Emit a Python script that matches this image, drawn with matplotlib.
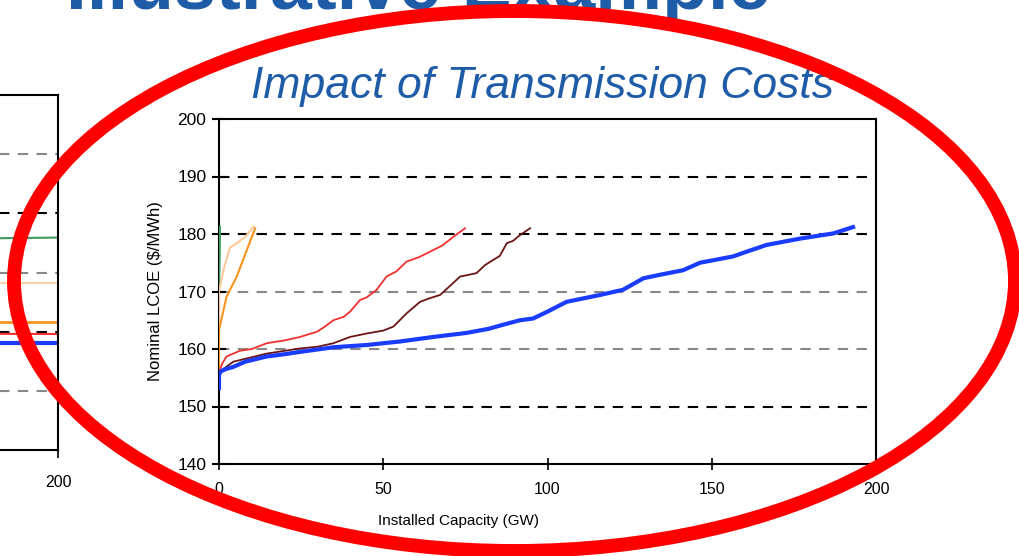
import matplotlib
matplotlib.use("Agg")
from matplotlib import pyplot as plt
from matplotlib.patches import Ellipse

plt.rcParams['font.family'] = ['Liberation Sans', 'DejaVu Sans']

# Curvas de oferta (capacidad instalada GW, LCOE $/MWh)
blue_x = [0, 0, 0.5, 2, 4.4, 8, 14.5, 20, 24.7, 34.8, 45, 55, 65.3, 75.4, 82, 87, 91.6, 95.6,
          100, 105.8, 116, 123, 129.2, 135, 141.3, 146.4, 156.5, 161, 166.7, 176.9, 187, 193]
blue_y = [153.2, 155.5, 156.1, 156.5, 156.9, 157.8, 158.7, 159.1, 159.5, 160.3, 160.7, 161.3, 162.1,
          162.8, 163.5, 164.3, 165.0, 165.3, 166.5, 168.2, 169.4, 170.3, 172.3, 173.0, 173.7, 175.0,
          176.1, 177.0, 178.1, 179.2, 180.1, 181.2]
red_x = [0, 1, 2.3, 6.4, 10, 14.5, 20, 24.7, 29.8, 32, 34.8, 38, 39.9, 42.9, 45, 48, 51, 54,
         57.1, 61, 65.2, 68, 71.3, 74.9]
red_y = [156, 157.5, 158.7, 159.7, 160.0, 161.0, 161.5, 162.1, 163.0, 163.8, 165.0, 165.6, 166.5,
         168.5, 169.0, 170.3, 172.6, 173.5, 175.2, 176.0, 177.2, 178.0, 179.5, 181.0]
brown_x = [0, 4.4, 14.5, 24.7, 30, 34.8, 39.9, 45, 50, 53.1, 57.1, 61.2, 64, 67.3, 70, 73.4, 76,
           78.4, 81, 83.5, 85.5, 87.6, 89.5, 91.6, 94.7]
brown_y = [156, 157.8, 159.2, 160.1, 160.4, 161.0, 162.1, 162.7, 163.2, 163.9, 166.2, 168.2, 168.8,
           169.4, 170.8, 172.6, 172.9, 173.2, 174.6, 175.5, 176.2, 178.4, 178.8, 179.8, 181.0]
orange_x = [0, 0, 2.3, 5.4, 11]
orange_y = [156.3, 163.3, 169.1, 172.6, 181.0]
peach_x = [0, 0, 1.5, 3.3, 5.4, 8, 10.5]
peach_y = [160, 170, 174, 177.6, 178.4, 179.5, 181.3]
green_x = [0, 0.2, 0.3]
green_y = [170.3, 176, 181.3]

# Grafico de la izquierda (solo se ve el borde derecho)
left_x = [0, 100, 150, 200]
left_green = [175.2, 175.5, 175.6, 175.9]
left_peach = [168.3, 168.3, 168.3, 168.3]
left_orange = [161.6, 161.6, 161.6, 161.6]
left_red = [159.4, 159.5, 159.7, 159.6]
left_blue = [158.1, 158.1, 158.1, 158.1]

grid_black = [150, 180, 190]
grid_gray = [160, 170]

W, H = 1019, 556
fig = plt.figure(figsize=(W / 100, H / 100), dpi=100)

# Titulo de la diapositiva (cortado arriba)
fig.text(770 / W, 1 - 9 / H, "Illustrative Example", ha='right', va='baseline',
         fontsize=54, weight='bold', color='#1f5ca8', zorder=1)

# --- grafico izquierdo ---
axl = fig.add_axes([-599 / W, 1 - 450 / H, 657 / W, 355 / H])
axl.set_xlim(0, 200)
axl.set_ylim(140, 200)
for g, c in [(190, '#888888'), (180, 'k'), (170, '#888888'), (160, 'k'), (150, '#888888')]:
    axl.axhline(g, color=c, lw=1.5, dashes=(5, 4), zorder=1)
axl.plot(left_x, left_green, color='#3c9a5c', lw=1.5)
axl.plot(left_x, left_peach, color='#fcd0a8', lw=1.5)
axl.plot(left_x, left_orange, color='#f7941d', lw=2)
axl.plot(left_x, left_red, color='#f03030', lw=1.5)
axl.plot(left_x, left_blue, color='#1a3cff', lw=3)
axl.set_xticks([200])
axl.set_yticks([])
axl.tick_params(axis='x', labelsize=11.5, length=6, width=1.2, pad=12)
for s in axl.spines.values():
    s.set_linewidth(1.5)

# --- grafico principal ---
ax = fig.add_axes([219 / W, 1 - 464 / H, 657 / W, 345 / H])
ax.set_xlim(0, 200)
ax.set_ylim(140, 200)
for g in grid_black:
    ax.axhline(g, color='k', lw=1.5, dashes=(5, 4), zorder=1)
for g in grid_gray:
    ax.axhline(g, color='#888888', lw=1.5, dashes=(5, 4), zorder=1)

ax.plot(green_x, green_y, color='#3c9a5c', lw=1.5, zorder=3)
ax.plot(peach_x, peach_y, color='#fcc99a', lw=1.5, zorder=3)
ax.plot(orange_x, orange_y, color='#f7941d', lw=1.5, zorder=3)
ax.plot(brown_x, brown_y, color='#6a1414', lw=1.3, zorder=3)
ax.plot(red_x, red_y, color='#f03030', lw=1.3, zorder=3)
ax.plot(blue_x, blue_y, color='#1a3cff', lw=3, zorder=4)

ax.set_xticks([0, 50, 100, 150, 200])
ax.set_yticks([140, 150, 160, 170, 180, 190, 200])
ax.tick_params(axis='y', direction='inout', length=10, width=1.5, labelsize=12.5, pad=4)
ax.tick_params(axis='x', direction='inout', length=8, width=1.2, labelsize=11.5, pad=9)
for s in ax.spines.values():
    s.set_linewidth(1.5)

ax.set_xlabel("Installed Capacity (GW)", fontsize=11)
ax.set_ylabel("Nominal LCOE ($/MWh)", fontsize=12)
ax.yaxis.set_label_coords(-0.085, 0.5)
ax.xaxis.set_label_coords(0.365, -0.145)

ax.set_title("Impact of Transmission Costs", fontsize=32, style='italic', color='#1f5ca8',
             x=0.492, y=1.0, pad=15)

# Ovalo rojo encima de todo
ell = Ellipse((514.5 / W, 1 - 281 / H), 1001 / W, 540 / H, transform=fig.transFigure,
              fill=False, edgecolor='#ff0000', lw=10, zorder=20)
fig.add_artist(ell)

fig.savefig("out.png", dpi=100)
